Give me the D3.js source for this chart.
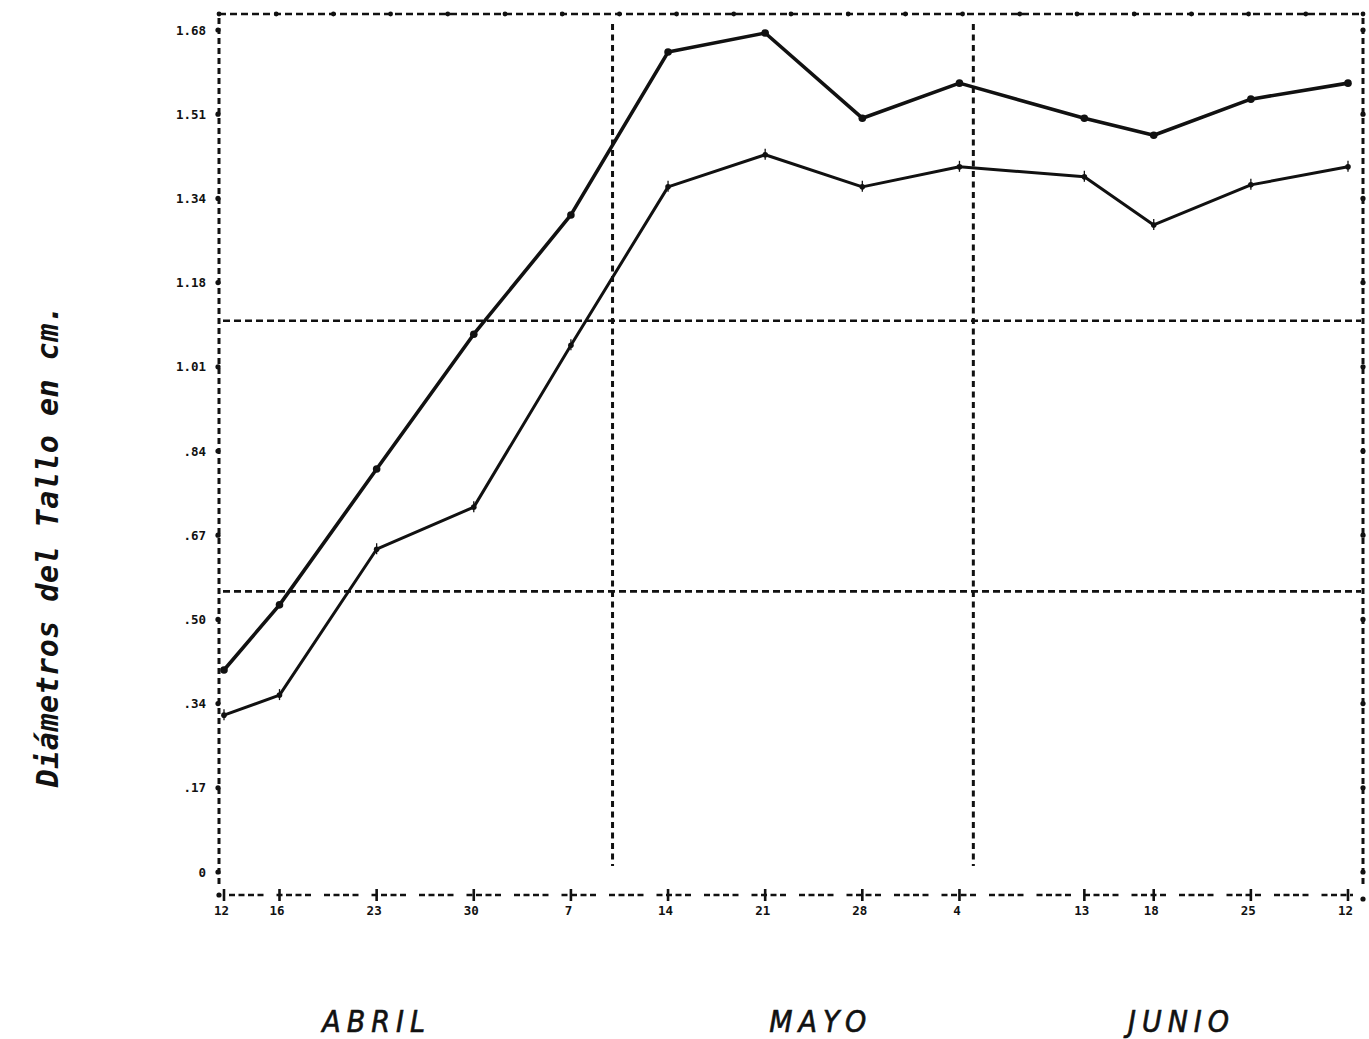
<!DOCTYPE html>
<html>
<head>
<meta charset="utf-8">
<script src="https://cdn.jsdelivr.net/npm/d3@7"></script>
<style>
  body { margin: 0; background: #fff; }
  svg { display: block; }
</style>
</head>
<body>
<svg id="grafico" width="1369" height="1039"></svg>
<script>
// Fechas de muestreo (mes-día) y sus rótulos en el eje X
const fechas = ["04-12","04-16","04-23","04-30","05-07","05-14","05-21","05-28","06-04","06-13","06-18","06-25","07-02"];
const etiquetasX = ["12","16","23","30","7","14","21","28","4","13","18","25","12"];

// Diámetro del tallo (cm) de los dos tratamientos
const serieSuperior = [0.403,0.533,0.804,1.073,1.311,1.636,1.674,1.504,1.574,1.504,1.470,1.542,1.574];
const serieInferior = [0.313,0.353,0.644,0.728,1.051,1.367,1.431,1.367,1.407,1.387,1.291,1.371,1.407];

// Marcas del eje Y
const ticksY = [0,0.168,0.336,0.504,0.672,0.84,1.008,1.176,1.344,1.512,1.68];
const etiquetasY = ["0",".17",".34",".50",".67",".84","1.01","1.18","1.34","1.51","1.68"];

// Líneas de división del gráfico
const divisionesX = ["05-10","06-05"];
const divisionesY = [0.56, 1.10];

// Meses bajo el eje
const meses = ["ABRIL","MAYO","JUNIO"];
const fechasMeses = ["04-23","05-25","06-20"];

const parse = d3.timeParse("%m-%d");
const svg = d3.select("#grafico");
const tinta = "#111";

// Marco del área de trazado
const izq = 219, der = 1363, arriba = 14, abajo = 895;

const x = d3.scaleTime()
  .domain([parse("04-12"), parse("07-02")])
  .range([224, 1348]);
const y = d3.scaleLinear()
  .domain([0, 1.68])
  .range([872, 30]);

svg.append("rect").attr("width", 1369).attr("height", 1039).attr("fill", "#fff");

// Bordes punteados del marco
const borde = svg.append("g").attr("stroke", tinta).attr("fill", "none");
borde.append("line").attr("x1", izq).attr("x2", der).attr("y1", arriba).attr("y2", arriba)
  .attr("stroke-width", 2.6).attr("stroke-dasharray", "7,4");
borde.append("line").attr("x1", izq).attr("x2", izq).attr("y1", arriba + 4).attr("y2", abajo - 8)
  .attr("stroke-width", 3).attr("stroke-dasharray", "6,4");
borde.append("line").attr("x1", der).attr("x2", der).attr("y1", arriba + 4).attr("y2", abajo - 8)
  .attr("stroke-width", 3).attr("stroke-dasharray", "6,4");
borde.append("line").attr("x1", izq + 10).attr("x2", der - 10).attr("y1", abajo).attr("y2", abajo)
  .attr("stroke-width", 2.6).attr("stroke-dasharray", "6,3.5,6,3.5,6,3.5,6,13");

// Puntos sobre el borde superior
svg.append("g").selectAll("circle")
  .data(d3.range(21).map(i => izq + i * (der - izq) / 20))
  .join("circle")
  .attr("cx", d => d).attr("cy", arriba).attr("r", 2.4).attr("fill", tinta);

// Puntos de las marcas en los bordes izquierdo y derecho
[izq - 1, der].forEach(px => {
  svg.append("g").selectAll("circle")
    .data(ticksY)
    .join("circle")
    .attr("cx", px).attr("cy", d => y(d)).attr("r", 2.6).attr("fill", tinta);
});
svg.append("circle").attr("cx", izq).attr("cy", abajo).attr("r", 2.6).attr("fill", tinta);
svg.append("circle").attr("cx", der).attr("cy", abajo + 4).attr("r", 2.6).attr("fill", tinta);

// Líneas de división
svg.append("g").selectAll("line")
  .data(divisionesX)
  .join("line")
  .attr("x1", d => x(parse(d))).attr("x2", d => x(parse(d)))
  .attr("y1", arriba + 10).attr("y2", 866)
  .attr("stroke", tinta).attr("stroke-width", 3).attr("stroke-dasharray", "6,4.5");
svg.append("g").selectAll("line")
  .data(divisionesY)
  .join("line")
  .attr("x1", izq + 4).attr("x2", der - 2)
  .attr("y1", d => y(d)).attr("y2", d => y(d))
  .attr("stroke", tinta).attr("stroke-width", 2.6).attr("stroke-dasharray", "7,4");

// Eje Y: rótulos
const ejeY = svg.append("g")
  .attr("transform", `translate(${izq},0)`)
  .call(d3.axisLeft(y).tickValues(ticksY).tickFormat((d, i) => etiquetasY[i]).tickSize(0).tickPadding(13));
ejeY.select(".domain").remove();
ejeY.selectAll("text")
  .attr("font-family", "'DejaVu Sans Mono', monospace")
  .attr("font-weight", "bold")
  .attr("font-size", 12.5)
  .attr("fill", tinta);

// Eje X: rótulos y cruces de marca
const ejeX = svg.append("g")
  .attr("transform", `translate(0,${abajo})`)
  .call(d3.axisBottom(x).tickValues(fechas.map(parse)).tickFormat((d, i) => etiquetasX[i]).tickSize(0).tickPadding(11));
ejeX.select(".domain").remove();
ejeX.selectAll("text")
  .attr("dx", -3)
  .attr("font-family", "'DejaVu Sans Mono', monospace")
  .attr("font-weight", "bold")
  .attr("font-size", 12.5)
  .attr("fill", tinta);
svg.append("g").selectAll("line")
  .data(fechas)
  .join("line")
  .attr("x1", d => x(parse(d))).attr("x2", d => x(parse(d)))
  .attr("y1", abajo - 6).attr("y2", abajo + 6)
  .attr("stroke", tinta).attr("stroke-width", 2.6);

// Curvas de crecimiento
const linea = d3.line()
  .x((d, i) => x(parse(fechas[i])))
  .y(d => y(d));

svg.append("path").datum(serieSuperior)
  .attr("d", linea).attr("fill", "none")
  .attr("stroke", tinta).attr("stroke-width", 3.6).attr("stroke-linejoin", "round");
svg.append("path").datum(serieInferior)
  .attr("d", linea).attr("fill", "none")
  .attr("stroke", tinta).attr("stroke-width", 3).attr("stroke-linejoin", "round");

svg.append("g").selectAll("circle")
  .data(serieSuperior)
  .join("circle")
  .attr("cx", (d, i) => x(parse(fechas[i]))).attr("cy", d => y(d))
  .attr("r", 3.8).attr("fill", tinta);
svg.append("g").selectAll("circle")
  .data(serieInferior)
  .join("circle")
  .attr("cx", (d, i) => x(parse(fechas[i]))).attr("cy", d => y(d))
  .attr("r", 2.8).attr("fill", tinta);
svg.append("g").selectAll("path")
  .data(serieInferior)
  .join("path")
  .attr("d", (d, i) => {
    const px = x(parse(fechas[i])), py = y(d);
    return `M${px},${py - 6}V${py + 5}`;
  })
  .attr("stroke", tinta).attr("stroke-width", 1.3);

// Meses
svg.append("g").selectAll("text")
  .data(meses)
  .join("text")
  .attr("x", (d, i) => x(parse(fechasMeses[i])))
  .attr("y", 1032)
  .attr("text-anchor", "middle")
  .attr("font-family", "'DejaVu Sans Condensed', 'DejaVu Sans', sans-serif")
  .attr("font-size", 30)
  .attr("font-style", "italic")
  .attr("letter-spacing", 6)
  .attr("stroke", tinta)
  .attr("stroke-width", 0.6)
  .attr("fill", tinta)
  .text(d => d);

// Título del eje Y
svg.append("text")
  .attr("transform", "translate(58,546) rotate(-90)")
  .attr("text-anchor", "middle")
  .attr("font-family", "'DejaVu Sans Mono', monospace")
  .attr("font-weight", "bold")
  .attr("font-style", "italic")
  .attr("font-size", 30)
  .attr("letter-spacing", 0.5)
  .attr("fill", tinta)
  .text("Diámetros del Tallo en cm.");
</script>
</body>
</html>
